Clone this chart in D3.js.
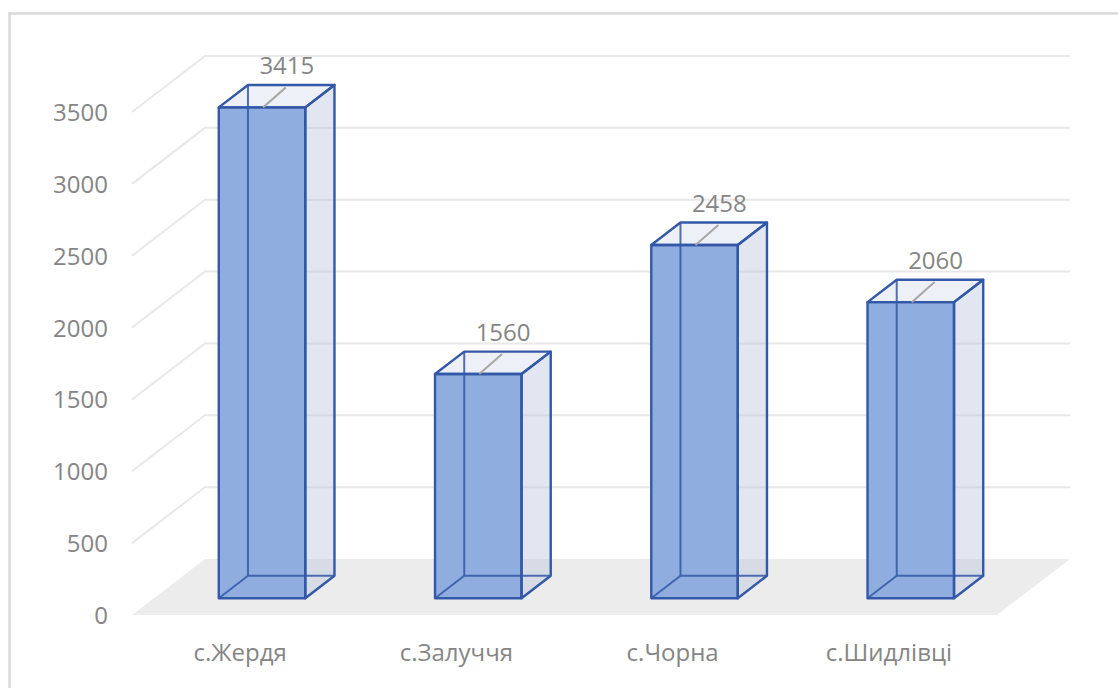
<!DOCTYPE html>
<html>
<head>
<meta charset="utf-8">
<script src="https://cdn.jsdelivr.net/npm/d3@7"></script>
<style>
  body { margin: 0; background: #fff; }
  text { font-family: "Open Sans", sans-serif; fill: #858585; }
</style>
</head>
<body>
<svg id="chart" width="1118" height="688"></svg>
<script>
const categories = ["с.Жердя", "с.Залуччя", "с.Чорна", "с.Шидлівці"]
const values = [3415, 1560, 2458, 2060]
const yTicks = [0, 500, 1000, 1500, 2000, 2500, 3000, 3500]

const width = 1118, height = 688
// depth vector of the 3d box (full depth of floor)
const DX = 73, DY = 56
const zFront = 0.3, zBack = 0.7

let svg = d3.select("#chart")

let x = d3.scaleBand()
  .domain(categories)
  .range([132, 997])
  .paddingInner(0.6)
  .paddingOuter(0.3)

let y = d3.scaleLinear()
  .domain([0, 3500])
  .range([615, 112])

// project (x on front plane, value, depth 0..1) to screen
function P(xs, v, z) {
  return [xs + z * DX, y(v) - z * DY]
}

function poly(pts) {
  return "M" + pts.map(p => p.join(",")).join("L") + "Z"
}

// outer border
svg.append("rect")
  .attr("x", 9.5).attr("y", 13.5)
  .attr("width", 1200).attr("height", 800)
  .style("fill", "none")
  .style("stroke", "#d9d9d9")
  .style("stroke-width", 2.5)

let x0 = x.range()[0], x1 = x.range()[1]

// floor
svg.append("path")
  .attr("d", poly([P(x0, 0, 0), P(x1, 0, 0), P(x1, 0, 1), P(x0, 0, 1)]))
  .style("fill", "#ececec")

// gridlines: side wall diagonal + back wall
svg.selectAll(".grid")
  .data(yTicks.filter(t => t > 0))
  .join("path")
  .attr("class", "grid")
  .attr("d", t => "M" + [P(x0, t, 0), P(x0, t, 1), P(x1, t, 1)].map(p => p.join(",")).join("L"))
  .style("fill", "none")
  .style("stroke", "#e8e8e8")
  .style("stroke-width", 2)

// axis labels
svg.selectAll(".ylab")
  .data(yTicks)
  .join("text")
  .attr("class", "ylab")
  .attr("x", 108)
  .attr("y", t => y(t) + 9)
  .attr("text-anchor", "end")
  .style("font-size", "24px")
  .text(t => t)

// bars
let bw = x.bandwidth()
let stroke = "#3358a8"

categories.forEach((c, i) => {
  let v = values[i]
  let a = x(c), b = x(c) + bw
  let FBL = P(a, 0, zFront), FBR = P(b, 0, zFront), FTL = P(a, v, zFront), FTR = P(b, v, zFront)
  let BBL = P(a, 0, zBack), BBR = P(b, 0, zBack), BTL = P(a, v, zBack), BTR = P(b, v, zBack)

  let g = svg.append("g")

  g.append("path").attr("d", poly([FBR, BBR, BTR, FTR])).style("fill", "rgba(190,200,224,0.45)")
  g.append("path").attr("d", poly([FTL, FTR, BTR, BTL])).style("fill", "rgba(205,212,232,0.35)")
  g.append("path").attr("d", poly([FBL, FBR, FTR, FTL])).style("fill", "#90addf")

  // hidden edges
  let hidden = [[BBL, BTL], [BBL, BBR], [FBL, BBL]]
  g.selectAll(".hid")
    .data(hidden)
    .join("line")
    .attr("class", "hid")
    .attr("x1", d => d[0][0]).attr("y1", d => d[0][1])
    .attr("x2", d => d[1][0]).attr("y2", d => d[1][1])
    .style("stroke", stroke)
    .style("stroke-opacity", 0.85)
    .style("stroke-width", 2)

  // visible edges
  for (let face of [[FBL, FBR, FTR, FTL], [FTL, FTR, BTR, BTL], [FBR, BBR, BTR, FTR]]) {
    g.append("path").attr("d", poly(face)).style("fill", "none")
      .style("stroke", stroke).style("stroke-width", 2.4).style("stroke-linejoin", "round")
  }

  // data label with leader line
  let cx = a + bw / 2
  let top = P(cx, v, zFront)
  let lab = P(cx, v, 0.64)
  let labY = lab[1] - 14
  g.append("line")
    .attr("x1", top[0] + 1).attr("y1", top[1])
    .attr("x2", lab[0] - 1).attr("y2", labY + 13)
    .style("stroke", "#a6a6a6")
    .style("stroke-width", 2)
  g.append("text")
    .attr("x", lab[0])
    .attr("y", labY)
    .attr("text-anchor", "middle")
    .style("font-size", "24px")
    .text(v)
})

// category labels
svg.selectAll(".xlab")
  .data(categories)
  .join("text")
  .attr("class", "xlab")
  .attr("x", c => x(c) + bw / 2)
  .attr("y", 661)
  .attr("text-anchor", "middle")
  .style("font-size", "24px")
  .text(c => c)
</script>
</body>
</html>
